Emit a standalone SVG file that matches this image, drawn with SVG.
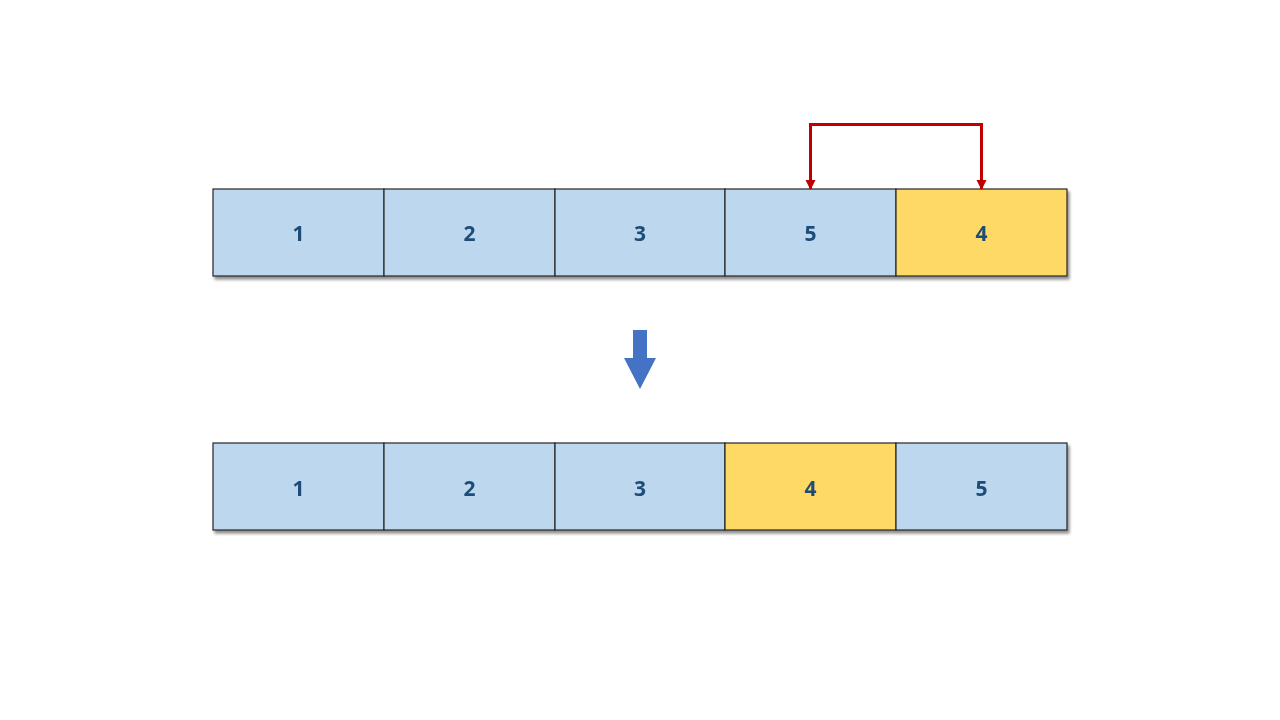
<svg xmlns="http://www.w3.org/2000/svg" width="1280" height="720" viewBox="0 0 1280 720">
<style>
.b{fill:#BDD7EE;stroke:#262626;stroke-width:1.2}
.y{fill:#FFD966;stroke:#262626;stroke-width:1.2}
.t{font-family:"Open Sans","Liberation Sans",sans-serif;font-weight:bold;font-size:21px;fill:#1F4E79;text-anchor:middle;dominant-baseline:central}
.c{fill:none;stroke:#C00000;stroke-width:3}
</style>
<defs>
<filter id="sh" x="-5%" y="-20%" width="110%" height="150%">
<feGaussianBlur in="SourceAlpha" stdDeviation="1.5"/>
<feOffset dx="2" dy="2.5"/>
<feComponentTransfer><feFuncA type="linear" slope="0.45"/></feComponentTransfer>
<feMerge><feMergeNode/><feMergeNode in="SourceGraphic"/></feMerge>
</filter>
<marker id="ah" viewBox="0 0 10 10" refX="9" refY="5" markerWidth="3.5" markerHeight="3.5" orient="auto-start-reverse" markerUnits="strokeWidth">
<path d="M0,0 L10,5 L0,10 z" fill="#C00000"/>
</marker>
</defs>
<rect width="1280" height="720" fill="#FFFFFF"/>
<g id="row1" filter="url(#sh)">
<g id="n1a"><rect class="b" x="213" y="189" width="171" height="87"/><text class="t" x="298.5" y="233">1</text></g>
<g id="n2a"><rect class="b" x="384" y="189" width="171" height="87"/><text class="t" x="469.5" y="233">2</text></g>
<g id="n3a"><rect class="b" x="555" y="189" width="170" height="87"/><text class="t" x="640" y="233">3</text></g>
<g id="n5a"><rect class="b" x="725" y="189" width="171" height="87"/><text class="t" x="810.5" y="233">5</text></g>
<g id="n4a"><rect class="y" x="896" y="189" width="171" height="87"/><text class="t" x="981.5" y="233">4</text></g>
</g>
<g id="row2" filter="url(#sh)">
<g id="n1b"><rect class="b" x="213" y="443" width="171" height="87"/><text class="t" x="298.5" y="488">1</text></g>
<g id="n2b"><rect class="b" x="384" y="443" width="171" height="87"/><text class="t" x="469.5" y="488">2</text></g>
<g id="n3b"><rect class="b" x="555" y="443" width="170" height="87"/><text class="t" x="640" y="488">3</text></g>
<g id="n4b"><rect class="y" x="725" y="443" width="171" height="87"/><text class="t" x="810.5" y="488">4</text></g>
<g id="n5b"><rect class="b" x="896" y="443" width="171" height="87"/><text class="t" x="981.5" y="488">5</text></g>
</g>
<g id="connectors">
<path class="c" d="M810.5,189 V124.5 H981.5 V189" marker-start="url(#ah)" marker-end="url(#ah)"/>
<path id="down" d="M633,330 H647 V358 H656 L640,389 L624,358 H633 Z" fill="#4472C4"/>
</g>
</svg>
